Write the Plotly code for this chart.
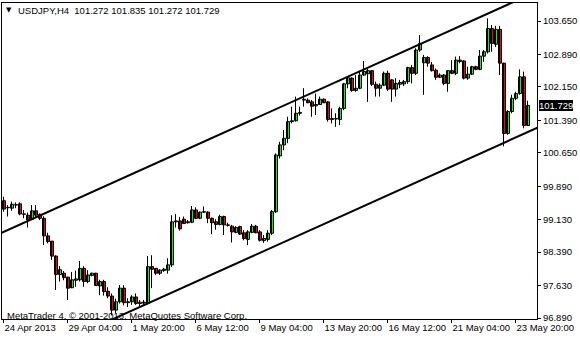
import plotly.graph_objects as go

# ---- data (USDJPY, H4 bars) ----
bar_index = list(range(132))

opens = [99.56, 99.40, 99.39, 99.46, 99.49, 99.26, 99.23, 99.14, 99.33, 99.25,
         99.16, 98.76, 98.64, 98.30, 97.88, 97.91, 97.82, 97.58, 97.75, 97.76,
         98.02, 97.72, 97.86, 97.91, 97.62, 97.72, 97.50, 97.39, 97.07, 97.26,
         97.57, 97.24, 97.26, 97.37, 97.22, 97.25, 97.22, 98.06, 98.02, 97.91,
         97.97, 97.98, 98.10, 99.08, 99.10, 99.14, 99.06, 99.07, 99.35, 99.16,
         99.30, 99.30, 99.16, 99.08, 99.02, 99.20, 99.01, 98.98, 98.84, 98.97,
         98.83, 98.68, 98.84, 98.98, 98.85, 98.65, 98.68, 98.82, 99.31, 100.58,
         100.83, 100.98, 101.36, 101.38, 101.55, 101.85, 101.85, 101.81, 101.72, 101.75,
         101.87, 101.81, 101.41, 101.43, 101.41, 101.66, 102.22, 102.35, 102.07, 102.12,
         102.42, 102.45, 102.52, 102.21, 102.12, 102.19, 102.46, 102.31, 102.10, 102.21,
         102.22, 102.27, 102.59, 102.46, 102.99, 102.70, 102.82, 102.65, 102.53, 102.37,
         102.42, 102.23, 102.52, 102.46, 102.76, 102.74, 102.35, 102.44, 102.61, 102.55,
         102.85, 102.95, 103.48, 103.12, 103.46, 102.69, 101.09, 101.59, 101.89, 102.00,
         102.38, 101.272]

highs = [99.65, 99.46, 99.54, 99.52, 99.52, 99.35, 99.29, 99.46, 99.46, 99.27,
         99.21, 98.83, 98.64, 98.32, 98.07, 97.96, 97.83, 97.94, 97.97, 98.19,
         98.07, 97.98, 97.92, 97.92, 97.76, 97.76, 97.59, 97.45, 97.33, 97.64,
         97.64, 97.34, 97.41, 97.45, 97.30, 97.30, 98.30, 98.32, 98.03, 98.00,
         98.03, 98.25, 99.23, 99.26, 99.19, 99.20, 99.12, 99.44, 99.41, 99.31,
         99.43, 99.32, 99.18, 99.14, 99.24, 99.22, 99.06, 99.01, 98.98, 98.99,
         98.89, 98.89, 99.03, 99.01, 98.89, 98.78, 98.89, 99.35, 100.64, 100.90,
         101.17, 101.47, 101.70, 101.93, 101.70, 102.12, 101.89, 101.85, 102.00, 101.93,
         101.89, 101.82, 101.66, 101.55, 101.70, 102.24, 102.38, 102.37, 102.42, 102.50,
         102.74, 102.57, 102.52, 102.27, 102.23, 102.50, 102.52, 102.33, 102.35, 102.31,
         102.31, 102.61, 102.65, 103.03, 103.33, 102.88, 102.85, 102.72, 102.57, 102.46,
         102.44, 102.53, 102.76, 102.84, 102.85, 102.76, 102.61, 102.63, 102.63, 102.99,
         102.99, 103.71, 103.56, 103.54, 103.54, 102.70, 101.62, 101.97, 102.04, 102.55,
         102.50, 101.835]

lows = [99.31, 99.20, 99.33, 99.39, 99.23, 99.16, 98.95, 99.12, 99.18, 99.12,
        98.55, 98.59, 98.21, 97.53, 97.72, 97.75, 97.30, 97.57, 97.60, 97.72,
        97.60, 97.68, 97.84, 97.62, 97.41, 97.40, 97.34, 96.95, 97.00, 97.22,
        97.18, 97.14, 97.19, 97.19, 97.12, 97.19, 97.20, 97.57, 97.87, 97.87,
        97.94, 97.90, 98.05, 98.95, 98.88, 99.03, 99.04, 99.05, 99.14, 99.14,
        99.28, 99.05, 98.80, 98.90, 99.00, 98.78, 98.97, 98.61, 98.82, 98.78,
        98.66, 98.55, 98.82, 98.82, 98.63, 98.60, 98.63, 98.78, 99.28, 100.52,
        100.71, 100.87, 101.32, 101.36, 101.50, 101.70, 101.78, 101.47, 101.51, 101.74,
        101.78, 101.36, 101.32, 101.24, 101.28, 101.62, 102.12, 102.04, 102.04, 102.10,
        102.40, 101.81, 102.17, 101.93, 101.93, 102.17, 102.06, 101.81, 101.93, 102.12,
        102.17, 102.22, 102.23, 102.42, 102.95, 101.97, 102.61, 102.50, 102.31, 102.35,
        102.19, 102.04, 102.44, 102.42, 102.69, 102.32, 102.31, 102.42, 102.53, 102.53,
        102.72, 102.91, 102.95, 103.06, 102.42, 100.80, 101.06, 101.55, 101.85, 101.97,
        101.21, 101.272]

closes = [99.37, 99.41, 99.48, 99.47, 99.26, 99.25, 99.12, 99.33, 99.23, 99.16,
          98.76, 98.63, 98.30, 97.88, 97.99, 97.81, 97.57, 97.76, 97.78, 98.02,
          97.72, 97.87, 97.91, 97.63, 97.72, 97.49, 97.39, 97.07, 97.26, 97.57,
          97.24, 97.26, 97.37, 97.22, 97.25, 97.23, 98.06, 98.00, 97.91, 97.98,
          98.00, 98.10, 99.08, 99.10, 98.92, 99.04, 99.08, 99.35, 99.16, 99.30,
          99.31, 99.16, 99.06, 99.02, 99.20, 99.01, 99.00, 98.85, 98.95, 98.80,
          98.70, 98.85, 98.98, 98.83, 98.66, 98.70, 98.82, 99.31, 100.60, 100.83,
          100.98, 101.36, 101.38, 101.55, 101.57, 101.87, 101.79, 101.71, 101.75, 101.87,
          101.79, 101.41, 101.43, 101.42, 101.66, 102.22, 102.36, 102.07, 102.12, 102.42,
          102.50, 102.52, 102.21, 102.12, 102.19, 102.46, 102.10, 102.10, 102.23, 102.25,
          102.27, 102.59, 102.46, 102.99, 103.14, 102.82, 102.69, 102.52, 102.37, 102.42,
          102.23, 102.52, 102.46, 102.76, 102.73, 102.35, 102.44, 102.61, 102.55, 102.85,
          102.95, 103.48, 103.14, 103.46, 102.69, 101.09, 101.59, 101.89, 102.00, 102.38,
          101.27, 101.729]

tick_bars = [0, 16, 32, 48, 64, 80, 96, 112, 128]
tick_labels = ["24 Apr 2013", "29 Apr 04:00", "1 May 20:00", "6 May 12:00",
               "9 May 04:00", "13 May 20:00", "16 May 12:00", "21 May 04:00",
               "23 May 20:00"]
price_ticks = [96.89, 97.63, 98.39, 99.13, 99.89, 100.65, 101.39, 102.15, 102.89, 103.65]
price_labels = ["96.890", "97.630", "98.390", "99.130", "99.890", "100.650",
                "101.390", "102.150", "102.890", "103.650"]

upper_channel_bars = [-1, 140]
upper_channel_prices = [98.808, 104.597]
lower_channel_bars = [-1, 140]
lower_channel_prices = [95.701, 101.490]

symbol = "USDJPY,H4"
last_ohlc = [101.272, 101.835, 101.272, 101.729]
copyright_text = "MetaTrader 4, © 2001-2013, MetaQuotes Software Corp."

BULL = "#00FF00"
BEAR = "#FF0000"
FONT = "Liberation Sans"
MIN_BODY = 0.01   # smallest drawn body so doji bars still show a dash

# ---- layout geometry ----
W, H = 580, 340
ML, MR, MT, MB = 2, 43, 3, 21
PW, PH = W - ML - MR, H - MT - MB

fig = go.Figure()

# wicks (high-low), drawn first so bodies sit on top
wick_x, wick_y = [], []
for b, hi, lo in zip(bar_index, highs, lows):
    wick_x += [b, b, None]
    wick_y += [lo, hi, None]
fig.add_trace(go.Scatter(x=wick_x, y=wick_y, mode="lines",
                         line=dict(color="black", width=1),
                         showlegend=False, hoverinfo="skip"))

# bodies (open-close)
body_base = [min(o, c) for o, c in zip(opens, closes)]
body_size = [max(abs(c - o), MIN_BODY) for o, c in zip(opens, closes)]
body_color = [BULL if c >= o else BEAR for o, c in zip(opens, closes)]
fig.add_trace(go.Bar(x=bar_index, y=body_size, base=body_base,
                     width=0.75, offset=-0.25,
                     marker=dict(color=body_color, line=dict(color="black", width=1)),
                     showlegend=False, hoverinfo="skip"))

# channel lines
for xs, ys in [(upper_channel_bars, upper_channel_prices),
               (lower_channel_bars, lower_channel_prices)]:
    fig.add_trace(go.Scatter(x=xs, y=ys, mode="lines",
                             line=dict(color="black", width=2),
                             showlegend=False, hoverinfo="skip"))

def px_x(p):
    return (p - ML) / PW

def px_y(p):
    return (H - MB - p) / PH

header = symbol + "\u00a0 " + " ".join(f"{v:.3f}" for v in last_ohlc)

annotations = [
    dict(text="▼", xref="paper", yref="paper", x=px_x(9), y=px_y(10),
         xanchor="center", yanchor="middle", showarrow=False,
         font=dict(family="DejaVu Sans", size=7, color="black")),
    dict(text=header, xref="paper", yref="paper", x=px_x(16), y=px_y(10),
         xanchor="left", yanchor="middle", showarrow=False,
         font=dict(family=FONT, size=9.5, color="black")),
    dict(text=copyright_text, xref="paper", yref="paper", x=px_x(5), y=px_y(315),
         xanchor="left", yanchor="middle", showarrow=False,
         font=dict(family=FONT, size=9.5, color="black")),
    dict(text=f"{last_ohlc[3]:.3f}", xref="paper", yref="y", x=1, y=last_ohlc[3],
         xanchor="left", yanchor="middle", xshift=2, showarrow=False,
         bgcolor="black", borderpad=0, borderwidth=0,
         font=dict(family=FONT, size=9.5, color="white")),
]

fig.update_layout(
    width=W, height=H,
    margin=dict(l=ML, r=MR, t=MT, b=MB, pad=0, autoexpand=False),
    paper_bgcolor="white", plot_bgcolor="white",
    showlegend=False, barmode="overlay",
    font=dict(family=FONT, size=9.5, color="black"),
    annotations=annotations,
)

fig.update_xaxes(
    range=[-0.375, 133.375], tickmode="array", tickvals=tick_bars, ticktext=tick_labels,
    ticks="outside", ticklen=3, tickcolor="black", tickwidth=1, tickangle=0,
    ticklabelposition="outside right", automargin=False,
    showgrid=False, zeroline=False, showline=True, linecolor="black", linewidth=1,
    mirror=True, fixedrange=True,
)
fig.update_yaxes(
    side="right", range=[96.868, 104.060], tickmode="array",
    tickvals=price_ticks, ticktext=price_labels, automargin=False,
    ticks="outside", ticklen=3, tickcolor="black", tickwidth=1,
    showgrid=False, zeroline=False, showline=True, linecolor="black", linewidth=1,
    mirror=True, fixedrange=True,
)

fig.write_html("out.html")
